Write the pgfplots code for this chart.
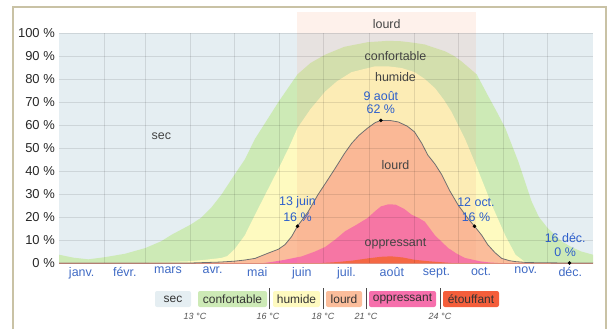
\documentclass[border=0pt]{standalone}
\usepackage{fontspec}
\setmainfont{Liberation Sans}
\usepackage{pgfplots}
\pgfplotsset{compat=1.18}

\definecolor{seccol}{HTML}{E5EEF2}
\definecolor{confcol}{HTML}{CDEAB6}
\definecolor{humcol}{HTML}{FEFAC0}
\definecolor{lourdcol}{HTML}{FBBD9B}
\definecolor{oppcol}{HTML}{F66FAC}
\definecolor{etoufcol}{HTML}{F45E3B}
\definecolor{bandcol}{HTML}{F7A27A}
\definecolor{linecol}{HTML}{707070}
\definecolor{annotcol}{HTML}{2D5FCC}
\definecolor{monthcol}{HTML}{3F6AC4}
\definecolor{labelcol}{HTML}{444444}
\definecolor{framecol}{HTML}{C9C2A5}
\definecolor{tempcol}{HTML}{555555}

% Cumulative shares (%) by day of year: each table gives the top of a band
% counted from the bottom (stifling, oppressive, heavy, humid, comfortable).
\begin{document}
\begin{tikzpicture}[x=1bp,y=1bp]
\useasboundingbox (0,0) rectangle (611,329);
\draw[framecol, line width=1.2bp] (13,0) -- (13,322) -- (606,322) -- (606,0);

\begin{axis}[
  at={(59bp,66bp)}, anchor=south west,
  scale only axis, width=534bp, height=230bp,
  xmin=0, xmax=365, ymin=0, ymax=100,
  axis line style={draw=none},
  major tick length=0pt, minor tick length=0pt,
  axis background/.style={fill=seccol},
  axis on top, clip=false,
  xtick={15.5,45,74.5,105,135.5,166,196.5,227.5,258,288.5,319,349.5},
  xticklabels={janv.,févr.,mars,avr.,mai,juin,juil.,août,sept.,oct.,nov.,déc.},
  minor xtick={31,59,90,120,151,181,212,243,273,304,334},
  xminorgrids=true, xmajorgrids=false,
  ytick={0,10,...,100},
  yticklabels={0 \%,10 \%,20 \%,30 \%,40 \%,50 \%,60 \%,70 \%,80 \%,90 \%,100 \%},
  ymajorgrids=true,
  grid style={black, opacity=0.10, line width=0.9bp},
  minor grid style={black, opacity=0.10, line width=0.9bp},
  xticklabel style={inner sep=0pt, anchor=north, yshift=-4bp,
    font=\fontsize{12.5}{14}\selectfont, text=monthcol},
  yticklabel style={inner sep=0pt, anchor=east, xshift=-4bp,
    font=\fontsize{13}{15}\selectfont, text=black!85},
]

% comfortable and above
\addplot[draw=none, fill=confcol] table {
0 3.6
10 2.3
20 1.6
31 2.5
45 4
59 6.5
70 9.5
77 12.3
90 16.7
97 19.6
104 24
111 29.7
120 38.4
127 45
134 54
142 62
150 70
157 76.5
163 82
172 87
182 90.6
195 94
211 96
225 96.6
234 96.4
243 95.7
250 95
257 93.5
264 92
270 90
275 87.7
280 85
285.5 82
293 73
299 66
305 58.7
314 44
323 26.8
328 20
334 15.2
343.6 9.4
350 7
357 5
365 3.6
} \closedcycle;

% humid and above
\addplot[draw=none, fill=humcol] table {
0 0.3
60 0.3
80 0.6
90 0.8
100 1.4
111 2.2
115 3
120 6
127 12
134 21
142 31
150 41
157 50
163 58.7
172 67
182 74.6
190 79
200 83
216 85.5
225 85.5
234 84.8
243 83
250 80
257 76
263 71
268 66
277.5 54
286 41
291 33
296 25
305 12
312 3.6
318 0.7
325 0.2
365 0.2
} \closedcycle;

% heavy and above
\addplot[draw=none, fill=lourdcol] table {
0 0
90 0
100 0.2
110 0.4
120 0.8
127 1.3
134 2
143 4.3
150 6
154.5 8
159 11.5
163 16
170 22
177 29.7
183 35.5
188.6 41
195 47.5
200 52
205 55.5
211 58.7
216 61
220 62
226 62
232 61.3
238 59.5
243 57
248 52
252 47
257 43
261.6 38.4
267 31.5
273 25
280 19
284 16
289 12
293 8
298 4.5
302.6 2
308 1
312 0.6
320 0.2
330 0.1
349 0
365 0
} \closedcycle;

% oppressive and above
\addplot[draw=none, fill=oppcol] table {
0 0
140 0
146 0.5
154.5 1.4
166 2.9
175 5
182 7
189 10.3
195.5 13.8
203 16.5
211 19.6
216 22.5
220 24.6
225 25.5
230 25.4
236 23.5
241 21
246 19.5
250 18
257 12
266 6.5
272 4
277.5 2.2
288 0.7
295 0.2
300 0
365 0
} \closedcycle;

% stifling
\addplot[draw=none, fill=etoufcol] table {
0 0
180 0
190 0.4
200 1.0
211 2
220 2.7
227 2.9
235 2.4
243 1.4
252 0.8
260 0.4
268 0
365 0
} \closedcycle;

\addplot[draw=etoufcol!60, line width=0.8bp] coordinates {(0,0) (365,0)};

% season when heavy humidity or worse exceeds 16 %
\fill[bandcol, opacity=0.15] (axis cs:163,0) rectangle (axis cs:285,109);
\node[text=labelcol, font=\fontsize{12.5}{14}\selectfont] at (axis cs:224,103.9) {lourd};

% probability of heavy humidity or worse
\addplot[linecol, line width=0.8bp] table {
0 0
90 0
100 0.2
110 0.4
120 0.8
127 1.3
134 2
143 4.3
150 6
154.5 8
159 11.5
163 16
170 22
177 29.7
183 35.5
188.6 41
195 47.5
200 52
205 55.5
211 58.7
216 61
220 62
226 62
232 61.3
238 59.5
243 57
248 52
252 47
257 43
261.6 38.4
267 31.5
273 25
280 19
284 16
289 12
293 8
298 4.5
302.6 2
308 1
312 0.6
320 0.2
330 0.1
349 0
365 0
};

\addplot[only marks, mark=*, mark size=1.6bp, black] coordinates {
(163,16) (220,62) (284,16) (349,0)};

\begin{scope}[every node/.style={font=\fontsize{12.5}{14}\selectfont, text=labelcol}]
\node at (axis cs:70,55.2) {sec};
\node at (axis cs:230,90) {confortable};
\node at (axis cs:230,81) {humide};
\node at (axis cs:230,42.6) {lourd};
\node at (axis cs:230,8.3) {oppressant};
\end{scope}

\begin{scope}[every node/.style={font=\fontsize{12.5}{14}\selectfont, text=annotcol}]
\node at (axis cs:163,26.5) {13 juin};
\node at (axis cs:163,20) {16 \%};
\node at (axis cs:220,72.7) {9 août};
\node at (axis cs:220,66.7) {62 \%};
\node at (axis cs:285,26.5) {12 oct.};
\node at (axis cs:285,20) {16 \%};
\node at (axis cs:346,10.9) {16 déc.};
\node at (axis cs:346,4.8) {0 \%};
\end{scope}
\end{axis}

% legend
\begin{scope}[every node/.style={font=\fontsize{12}{14}\selectfont, text=black!80}]
\fill[seccol, rounded corners=2bp] (155,22) rectangle (191,38);
\node at (173,30) {sec};
\fill[confcol, rounded corners=2bp] (198,22) rectangle (267,38);
\node at (232.5,30) {confortable};
\fill[humcol, rounded corners=2bp] (273,22) rectangle (320,38);
\node at (296.5,30) {humide};
\fill[lourdcol, rounded corners=2bp] (326,22) rectangle (362,38);
\node at (344,30) {lourd};
\fill[oppcol, rounded corners=2bp] (369,22) rectangle (436,38);
\node at (402.5,30) {oppressant};
\fill[etoufcol, rounded corners=2bp] (443,22) rectangle (499,38);
\node at (471,30) {étouffant};
\end{scope}
\foreach \sx in {269,323,366,440}
  \draw[black!70, line width=0.8bp] (\sx,20) -- (\sx,41);
\begin{scope}[every node/.style={font=\itshape\fontsize{9}{11}\selectfont, text=tempcol}]
\node at (195,13) {13 °C};
\node at (268,13) {16 °C};
\node at (323,13) {18 °C};
\node at (366,13) {21 °C};
\node at (440,13) {24 °C};
\end{scope}
\end{tikzpicture}
\end{document}
